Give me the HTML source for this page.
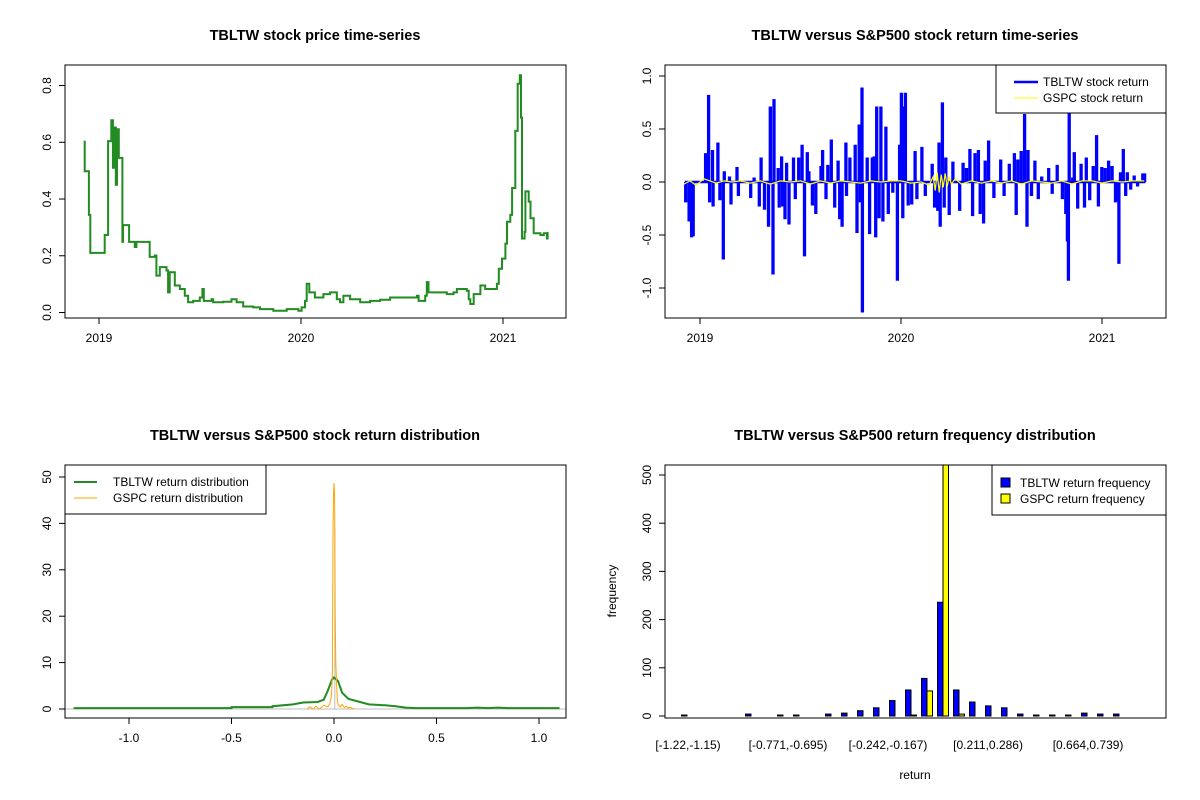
<!DOCTYPE html>
<html><head><meta charset="utf-8"><style>
html,body{margin:0;padding:0;background:#fff;}
svg{display:block;font-family:"Liberation Sans",Arial,sans-serif;}
</style></head><body>
<svg id="s" width="1200" height="800" viewBox="0 0 1200 800"></svg>
<script>
// ---------- Data: price series ----------
const priceDates=[2018.924,2018.929,2018.929,2018.950,2018.950,2018.957,2018.957,2019.028,2019.028,2019.045,2019.045,2019.061,2019.069,2019.078,2019.083,2019.089,2019.098,2019.111,2019.116,2019.119,2019.136,2019.149,2019.177,2019.185,2019.248,2019.251,2019.276,2019.284,2019.301,2019.334,2019.342,2019.350,2019.375,2019.400,2019.425,2019.441,2019.466,2019.499,2019.512,2019.519,2019.557,2019.565,2019.615,2019.656,2019.681,2019.714,2019.764,2019.797,2019.863,2019.929,2019.987,2020.003,2020.020,2020.028,2020.041,2020.069,2020.111,2020.144,2020.177,2020.193,2020.210,2020.243,2020.293,2020.342,2020.392,2020.441,2020.474,2020.524,2020.574,2020.582,2020.615,2020.623,2020.631,2020.673,2020.722,2020.755,2020.772,2020.821,2020.830,2020.838,2020.855,2020.888,2020.912,2020.954,2020.970,2020.979,2020.995,2021.012,2021.020,2021.036,2021.045,2021.061,2021.073,2021.083,2021.089,2021.094,2021.107,2021.111,2021.127,2021.136,2021.152,2021.185,2021.202,2021.218,2021.221];
const priceVals=[0.602,0.602,0.498,0.492,0.344,0.279,0.210,0.210,0.273,0.275,0.604,0.678,0.510,0.652,0.450,0.646,0.545,0.545,0.249,0.308,0.308,0.249,0.231,0.249,0.249,0.196,0.201,0.130,0.160,0.148,0.071,0.142,0.095,0.083,0.059,0.036,0.041,0.053,0.083,0.041,0.047,0.036,0.038,0.047,0.036,0.021,0.018,0.012,0.006,0.012,0.006,0.018,0.041,0.101,0.071,0.053,0.065,0.071,0.047,0.036,0.059,0.047,0.036,0.041,0.045,0.053,0.053,0.053,0.059,0.041,0.059,0.107,0.071,0.071,0.065,0.071,0.083,0.077,0.047,0.030,0.065,0.095,0.083,0.083,0.101,0.154,0.190,0.243,0.320,0.344,0.439,0.640,0.806,0.836,0.687,0.261,0.284,0.427,0.391,0.332,0.279,0.273,0.279,0.261,0.284];
// ---------- Data: return series ----------
const retDates=[2018.927,2018.944,2018.956,2018.964,2019.026,2019.041,2019.046,2019.060,2019.063,2019.087,2019.097,2019.114,2019.119,2019.145,2019.152,2019.182,2019.189,2019.250,2019.267,2019.293,2019.302,2019.319,2019.339,2019.348,2019.361,2019.366,2019.387,2019.392,2019.404,2019.409,2019.421,2019.429,2019.441,2019.463,2019.472,2019.489,2019.506,2019.518,2019.532,2019.540,2019.557,2019.574,2019.600,2019.608,2019.625,2019.634,2019.651,2019.668,2019.685,2019.693,2019.705,2019.724,2019.727,2019.744,2019.770,2019.779,2019.790,2019.796,2019.804,2019.806,2019.830,2019.842,2019.855,2019.864,2019.872,2019.877,2019.889,2019.898,2019.908,2019.923,2019.935,2019.957,2019.980,2019.991,2020.000,2020.007,2020.014,2020.020,2020.034,2020.051,2020.068,2020.077,2020.102,2020.119,2020.153,2020.165,2020.181,2020.187,2020.193,2020.204,2020.213,2020.221,2020.238,2020.256,2020.290,2020.307,2020.324,2020.341,2020.354,2020.366,2020.383,2020.392,2020.409,2020.417,2020.434,2020.460,2020.494,2020.511,2020.537,2020.562,2020.571,2020.579,2020.596,2020.613,2020.625,2020.630,2020.647,2020.664,2020.681,2020.698,2020.733,2020.750,2020.775,2020.801,2020.818,2020.826,2020.831,2020.835,2020.852,2020.860,2020.877,2020.894,2020.911,2020.920,2020.937,2020.954,2020.971,2020.980,2020.997,2021.014,2021.031,2021.048,2021.065,2021.078,2021.082,2021.090,2021.104,2021.116,2021.124,2021.141,2021.158,2021.175,2021.201,2021.210];
const retVals=[-0.18,-0.36,-0.51,-0.50,0.26,0.81,-0.18,0.29,-0.22,0.36,-0.16,-0.72,0.09,0.04,-0.20,0.13,-0.12,-0.14,0.03,-0.22,0.22,-0.25,-0.41,0.70,-0.86,0.77,0.12,-0.23,0.23,-0.22,-0.34,0.17,-0.39,0.22,-0.15,0.22,0.34,-0.69,0.27,0.09,-0.21,-0.29,0.14,0.29,-0.15,0.15,0.39,-0.23,0.19,-0.34,-0.41,0.36,-0.12,0.22,0.34,-0.47,0.53,-0.18,0.88,-1.22,0.22,-0.48,0.22,0.23,-0.51,0.70,-0.33,0.70,-0.36,0.51,-0.29,-0.09,-0.92,0.34,0.83,-0.33,0.70,0.83,-0.21,-0.20,0.28,-0.15,0.32,-0.12,0.16,-0.23,-0.26,0.36,-0.41,0.74,-0.23,0.22,-0.30,0.18,-0.26,0.17,0.12,0.30,-0.31,0.26,0.29,-0.29,-0.38,0.19,0.38,-0.14,0.20,-0.12,0.16,0.26,-0.30,0.20,0.28,0.63,-0.41,0.29,-0.12,0.19,-0.15,0.04,0.12,-0.10,0.15,-0.15,-0.29,-0.55,-0.92,0.67,0.03,0.27,-0.24,0.16,-0.23,0.22,-0.16,0.14,0.43,-0.22,0.13,0.12,0.19,0.14,-0.18,-0.16,-0.76,0.08,0.30,-0.12,0.08,-0.06,0.05,-0.03,0.07,0.07];
const gspcDates=[2018.92,2018.95,2018.98,2019.02,2019.05,2019.08,2019.12,2019.16,2019.20,2019.25,2019.30,2019.35,2019.40,2019.45,2019.50,2019.55,2019.60,2019.65,2019.70,2019.75,2019.80,2019.85,2019.90,2019.95,2020.00,2020.05,2020.10,2020.14,2020.16,2020.17,2020.18,2020.19,2020.20,2020.21,2020.22,2020.23,2020.24,2020.25,2020.27,2020.30,2020.35,2020.40,2020.45,2020.50,2020.55,2020.60,2020.65,2020.70,2020.75,2020.80,2020.85,2020.90,2020.95,2021.00,2021.05,2021.10,2021.15,2021.21];
const gspcVals=[-0.02,0.01,-0.03,0.03,0.01,-0.01,0.01,0.00,0.01,-0.01,0.01,-0.02,0.01,0.00,0.01,-0.02,0.01,-0.01,0.01,0.00,-0.01,0.01,0.00,0.01,0.01,-0.01,0.00,-0.03,0.05,-0.08,0.09,-0.10,0.07,-0.05,0.08,-0.04,0.05,-0.02,0.03,-0.02,0.01,-0.01,0.01,-0.01,0.01,-0.02,0.01,0.00,-0.01,0.01,-0.02,0.01,0.01,-0.01,0.01,0.00,0.01,0.01];
// ---------- Data: densities ----------
const tbDensX=[-1.27,-0.5,-0.5,-0.3,-0.3,-0.2,-0.15,-0.08,-0.05,-0.03,-0.01,0,0.02,0.04,0.07,0.12,0.17,0.25,0.3,0.35,0.4,0.65,0.7,0.75,0.8,0.85,1.1];
const tbDensY=[0.2,0.2,0.4,0.4,0.6,1.0,1.4,1.5,2.0,4.0,6.3,6.8,6.0,3.5,2.2,1.6,1.0,0.8,0.6,0.3,0.2,0.2,0.3,0.2,0.3,0.2,0.2];
const spDensX=[-0.13,-0.12,-0.1,-0.09,-0.07,-0.05,-0.03,-0.02,-0.012,-0.008,-0.005,-0.002,0,0.003,0.006,0.009,0.012,0.016,0.02,0.03,0.04,0.05,0.06,0.07,0.08,0.09,0.1];
const spDensY=[0,0.5,0,0.6,0,0.8,0.5,1.2,3,8,38,47,48.7,46,20,10,6,2,1,0.4,1.0,0.3,0.6,0.2,0.4,0.1,0];
// ---------- Data: histogram ----------
const binLabels=["[-1.22,-1.15)","[-0.771,-0.695)","[-0.242,-0.167)","[0.211,0.286)","[0.664,0.739)"];
const binLabelIdx=[0,6,12,18,24];
const tbFreq=[2,0,0,0,4,0,2,2,0,4,6,11,17,32,54,78,236,54,29,21,17,4,2,2,2,6,4,4,0,0];
const spFreq=[0,0,0,0,0,0,0,0,0,0,0,0,0,0,2,52,600,4,0,0,0,0,0,0,0,0,0,0,0,0];

const NS="http://www.w3.org/2000/svg";
const svg=document.getElementById('s');
function el(tag,attrs,parent,text){const e=document.createElementNS(NS,tag);for(const k in attrs)e.setAttribute(k,attrs[k]);if(text!==undefined)e.textContent=text;(parent||svg).appendChild(e);return e;}

function panel(name,x0,y0,w,h){
  const g=el('g',{});
  
  
  const clip=el('clipPath',{id:name+'-clip'},g);el('rect',{x:x0,y:y0,width:w,height:h},clip);
  return g;
}
function box(g,x0,y0,w,h){const r=el('rect',{x:x0,y:y0,width:w,height:h,fill:'none',stroke:'#000','stroke-width':1},g);}
function title(g,cx,y,t){const e=el('text',{x:cx,y:y,'text-anchor':'middle','font-size':'14.5','font-weight':'bold'},g,t);}
function yTicks(g,xAxis,vals,labs,sy){
  vals.forEach((v,i)=>{const y=sy(v);el('line',{x1:xAxis,x2:xAxis-6,y1:y,y2:y,stroke:'#000'},g);
    const t=el('text',{x:xAxis-14,y:y,'text-anchor':'middle','font-size':'12',transform:`rotate(-90 ${xAxis-14} ${y})`},g,labs[i]);
    });
  el('line',{x1:xAxis,x2:xAxis,y1:sy(vals[0]),y2:sy(vals[vals.length-1]),stroke:'#000'},g);
}
function xTicks(g,yAxis,vals,labs,sx){
  vals.forEach((v,i)=>{const x=sx(v);el('line',{x1:x,x2:x,y1:yAxis,y2:yAxis+6,stroke:'#000'},g);
    const t=el('text',{x:x,y:yAxis+24,'text-anchor':'middle','font-size':'12'},g,labs[i]);
    });
  el('line',{x1:sx(vals[0]),x2:sx(vals[vals.length-1]),y1:yAxis,y2:yAxis,stroke:'#000'},g);
}
function poly(g,xs,ys,sx,sy,color,wd,name,clip){
  const pts=xs.map((x,i)=>sx(x).toFixed(1)+','+sy(ys[i]).toFixed(1)).join(' ');
  const p=el('polyline',{points:pts,fill:'none',stroke:color,'stroke-width':wd,'stroke-linejoin':'miter','clip-path':clip?`url(#${clip})`:''},g);
  
}

// ===== Panel 1: price =====
{
  const g=panel('price-chart',65,65,501,253);
  const sx=v=>99+(v-2019)*202, sy=v=>312.5-v*283.7;
  title(g,315,40,'TBLTW stock price time-series');
  // step rendering (daily series look)
  const xs=[],ys=[];
  priceDates.forEach((d,i)=>{ if(i>0){xs.push(d);ys.push(priceVals[i-1]);} xs.push(d);ys.push(priceVals[i]); });
  poly(g,xs,ys,sx,sy,'#228B22',2,'price-line');
  box(g,65,65,501,253);
  yTicks(g,65,[0,0.2,0.4,0.6,0.8],['0.0','0.2','0.4','0.6','0.8'],sy);
  xTicks(g,318,[2019,2020,2021],['2019','2020','2021'],sx);
}
// ===== Panel 2: returns =====
{
  const g=panel('return-chart',665,65,501,253);
  const sx=v=>700+(v-2019)*201, sy=v=>182-v*106;
  title(g,915,40,'TBLTW versus S&P500 stock return time-series');
  const xs=[],ys=[];
  retDates.forEach((d,i)=>{xs.push(d);ys.push(0);xs.push(d);ys.push(retVals[i]);xs.push(d+0.004);ys.push(retVals[i]);xs.push(d+0.004);ys.push(0);});
  poly(g,xs,ys,sx,sy,'#0000FF',2.5,'tbltw-return-line','return-chart-clip');
  poly(g,gspcDates,gspcVals,sx,sy,'#FFFF00',1.2,'gspc-return-line','return-chart-clip');
  box(g,665,65,501,253);
  yTicks(g,665,[-1,-0.5,0,0.5,1],['-1.0','-0.5','0.0','0.5','1.0'],sy);
  xTicks(g,318,[2019,2020,2021],['2019','2020','2021'],sx);
  const lg=el('g',{},g);
  el('rect',{x:996,y:65,width:170,height:48,fill:'#fff',stroke:'#000'},lg);
  el('line',{x1:1014,x2:1038,y1:82,y2:82,stroke:'#0000FF','stroke-width':2.5},lg);
  el('line',{x1:1014,x2:1038,y1:98,y2:98,stroke:'#FFFF00','stroke-width':1},lg);
  const a=el('text',{x:1043,y:86,'font-size':'12'},lg,'TBLTW stock return');
  const b=el('text',{x:1043,y:102,'font-size':'12'},lg,'GSPC stock return');
}
// ===== Panel 3: density =====
{
  const g=panel('density-chart',65,465,501,253);
  const sx=v=>334+v*205, sy=v=>709-v*4.64;
  title(g,315,440,'TBLTW versus S&P500 stock return distribution');
  el('line',{x1:65,x2:566,y1:sy(0),y2:sy(0),stroke:'#BEBEBE','stroke-width':1},g);
  el('line',{x1:sx(0.004),x2:sx(0.004),y1:sy(0),y2:sy(39),stroke:'#BEBEBE','stroke-width':1},g);
  poly(g,tbDensX,tbDensY,sx,sy,'#228B22',2,'tbltw-density-line');
  poly(g,spDensX,spDensY,sx,sy,'#FFA500',1,'gspc-density-line');
  box(g,65,465,501,253);
  yTicks(g,65,[0,10,20,30,40,50],['0','10','20','30','40','50'],sy);
  xTicks(g,718,[-1,-0.5,0,0.5,1],['-1.0','-0.5','0.0','0.5','1.0'],sx);
  const lg=el('g',{},g);
  el('rect',{x:65,y:465,width:201,height:49,fill:'#fff',stroke:'#000'},lg);
  el('line',{x1:74,x2:97,y1:482,y2:482,stroke:'#228B22','stroke-width':2},lg);
  el('line',{x1:74,x2:97,y1:498,y2:498,stroke:'#FFA500','stroke-width':1},lg);
  const a=el('text',{x:113,y:486,'font-size':'12'},lg,'TBLTW return distribution');
  const b=el('text',{x:113,y:502,'font-size':'12'},lg,'GSPC return distribution');
}
// ===== Panel 4: histogram =====
{
  const g=panel('frequency-chart',665,465,501,253);
  const gx=i=>687+i*16, lx=i=>688+i*16.67, sy=v=>716-v*0.482, bw=5.5;
  title(g,915,440,'TBLTW versus S&P500 return frequency distribution');
  const bars=el('g',{'clip-path':'url(#frequency-chart-clip)'},g);
  tbFreq.forEach((v,i)=>{const r=el('rect',{x:gx(i)-bw,y:sy(v),width:bw,height:sy(0)-sy(v),fill:'#0000FF',stroke:'#000','stroke-width':1},bars);
    });
  spFreq.forEach((v,i)=>{const r=el('rect',{x:gx(i),y:sy(v),width:bw,height:sy(0)-sy(v),fill:'#FFFF00',stroke:'#000','stroke-width':1},bars);
    });
  box(g,665,465,501,253);
  yTicks(g,665,[0,100,200,300,400,500],['0','100','200','300','400','500'],sy);
  binLabels.forEach((t,k)=>{const e=el('text',{x:lx(binLabelIdx[k]),y:749,'text-anchor':'middle','font-size':'12'},g,t);});
  const xt=el('text',{x:915,y:779,'text-anchor':'middle','font-size':'12'},g,'return');
  const yt=el('text',{x:616,y:591,'text-anchor':'middle','font-size':'12',transform:'rotate(-90 616 591)'},g,'frequency');
  const lg=el('g',{},g);
  el('rect',{x:992,y:465,width:174,height:50,fill:'#fff',stroke:'#000'},lg);
  el('rect',{x:1001,y:478,width:9,height:9,fill:'#0000FF',stroke:'#000'},lg);
  el('rect',{x:1001,y:494,width:9,height:9,fill:'#FFFF00',stroke:'#000'},lg);
  const a=el('text',{x:1020,y:487,'font-size':'12'},lg,'TBLTW return frequency');
  const b=el('text',{x:1020,y:503,'font-size':'12'},lg,'GSPC return frequency');
}
</script>
</body></html>
